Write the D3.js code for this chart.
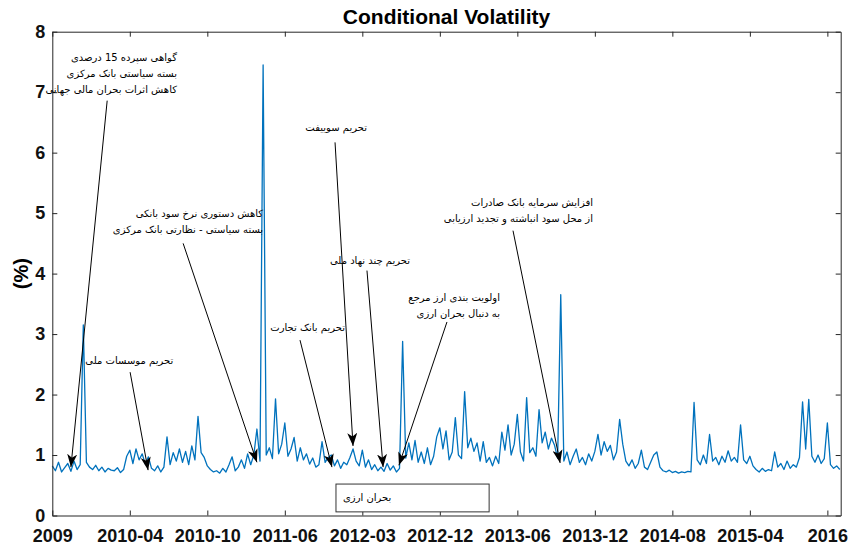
<!DOCTYPE html>
<html>
<head>
<meta charset="utf-8">
<script src="https://cdn.jsdelivr.net/npm/d3@7"></script>
<style>
body { margin: 0; background: #fff; }
</style>
</head>
<body>
<div class="container"></div>
<script>
// conditional volatility (%), one value per sampled observation
var volatility = [
    0.82, 0.74, 0.88, 0.72, 0.79, 0.86, 0.73, 0.90, 0.76, 0.84,
    3.15, 0.88, 0.80, 0.76, 0.83, 0.74, 0.80, 0.72, 0.78, 0.75,
    0.74, 0.79, 0.71, 0.76, 0.98, 1.08, 0.86, 1.10, 0.92, 1.02,
    0.85, 0.97, 0.78, 0.74, 0.82, 0.72, 0.80, 1.30, 0.84, 1.04,
    0.90, 1.10, 0.88, 1.06, 0.84, 1.15, 0.92, 1.64, 1.04, 0.96,
    0.82, 0.76, 0.72, 0.74, 0.70, 0.78, 0.72, 0.84, 0.97, 0.74,
    0.80, 0.92, 0.78, 1.02, 0.84, 1.00, 1.43, 0.90, 7.45, 1.00,
    1.12, 0.94, 1.93, 1.02, 1.18, 1.53, 0.98, 1.10, 1.29, 0.90,
    1.12, 0.92, 1.02, 0.85, 0.95, 0.80, 0.84, 1.22, 0.88, 0.96,
    1.00, 0.82, 0.92, 0.78, 0.88, 0.84, 0.96, 1.10, 0.90, 0.82,
    1.08, 0.80, 0.92, 0.76, 0.84, 0.74, 0.80, 0.73, 0.86, 0.75,
    0.82, 0.72, 0.78, 2.88, 0.95, 1.20, 0.92, 1.24, 0.88, 1.05,
    0.86, 1.12, 0.84, 0.98, 1.30, 1.45, 1.10, 1.40, 0.92, 1.05,
    1.62, 1.00, 0.94, 2.05, 1.12, 1.28, 1.06, 1.20, 0.90, 1.22,
    0.88, 0.96, 0.82, 0.98, 0.86, 1.38, 1.08, 1.50, 1.00, 1.18,
    1.67, 1.05, 0.90, 1.95, 1.04, 1.12, 0.98, 1.75, 1.20, 1.38,
    1.10, 1.28, 1.16, 0.95, 3.65, 0.90, 1.05, 0.84, 0.98, 1.10,
    0.88, 0.96, 0.84, 1.02, 0.90, 1.06, 1.34, 1.00, 1.22, 1.06,
    1.16, 0.92, 1.05, 1.59, 1.18, 0.90, 0.82, 0.92, 0.78, 0.86,
    1.08, 0.80, 0.76, 0.88, 1.00, 1.05, 0.80, 0.74, 0.72, 0.75,
    0.71, 0.73, 0.70, 0.72, 0.71, 0.73, 0.72, 1.87, 0.92, 0.84,
    1.00, 0.86, 1.34, 0.90, 0.96, 0.84, 0.98, 0.88, 1.07, 0.90,
    0.96, 0.88, 1.50, 0.92, 0.86, 0.98, 0.82, 0.76, 0.72, 0.78,
    0.73, 0.76, 0.74, 1.05, 0.80, 0.86, 0.76, 0.90, 0.78, 0.84,
    0.80, 0.96, 1.88, 1.10, 1.92, 0.98, 0.88, 1.00, 0.86, 0.94,
    1.53, 0.84, 0.78, 0.82, 0.76
];

var xTickIndex = [0, 25, 50, 75, 100, 125, 150, 175, 200, 225, 250];
var xTickLabels = ["2009", "2010-04", "2010-10", "2011-06", "2012-03", "2012-12",
    "2013-06", "2013-12", "2014-08", "2015-04", "2016"];
var yTicks = [0, 1, 2, 3, 4, 5, 6, 7, 8];

// event notes: text lines, label anchor and arrow tail/head, all in (index, %) units
var noteLines = [
    ["گواهی سپرده 15 درصدی", "بسته سیاستی بانک مرکزی", "کاهش اثرات بحران مالی جهانی"],
    ["تحریم موسسات ملی"],
    ["کاهش دستوری نرخ سود بانکی", "بسته سیاستی - نظارتی بانک مرکزی"],
    ["تحریم بانک تجارت"],
    ["تحریم سوییفت"],
    ["تحریم چند نهاد ملی"],
    ["اولویت بندی ارز مرجع", "به دنبال بحران ارزی"],
    ["افزایش سرمایه بانک صادرات", "از محل سود انباشته و تجدید ارزیابی"]
];
var noteAt = [[40.2, 7.57], [39.0, 2.57], [68.0, 5.0], [94.4, 3.11], [101.5, 6.41], [115.4, 4.22], [144.4, 3.61], [174.4, 5.18]];
var arrowFrom = [[17.7, 6.86], [25.1, 2.37], [42.2, 4.5], [79.9, 2.90], [91.2, 6.17], [101.5, 4.05], [127.3, 3.20], [148.6, 4.71]];
var arrowTo = [[6.0, 0.80], [30.9, 0.75], [66.0, 0.88], [90.2, 0.80], [97.0, 1.15], [106.7, 0.80], [111.8, 0.83], [163.8, 0.87]];

var boxLabel = "بحران ارزی";
var boxSpan = [91.5, 140.9];
var boxRange = [0.06, 0.52];

var svgWidth = 851;
var svgHeight = 551;

var chartMargin = {
    top: 31.7,
    bottom: 35.5,
    left: 52.3,
    right: 10.3
};

var chartWidth = svgWidth - (chartMargin.left + chartMargin.right);
var chartHeight = svgHeight - (chartMargin.top + chartMargin.bottom);

var svg = d3
    .select(".container")
    .append("svg")
    .attr("height", svgHeight)
    .attr("width", svgWidth)
    .style("display", "block");

svg.append("defs")
    .append("marker")
    .attr("id", "head")
    .attr("markerUnits", "userSpaceOnUse")
    .attr("viewBox", "0 0 13 10")
    .attr("markerWidth", 13)
    .attr("markerHeight", 10)
    .attr("refX", 13)
    .attr("refY", 5)
    .attr("orient", "auto")
    .append("path")
    .attr("d", "M0,0 L13,5 L0,10 L3.5,5 Z")
    .attr("fill", "#000");

var chartGroup = svg.append("g")
    .attr("transform", `translate(${chartMargin.left}, ${chartMargin.top})`);

var xScale = d3.scaleLinear()
    .domain([0, 254.3])
    .range([0, chartWidth]);

var yScale = d3.scaleLinear()
    .domain([0, 8])
    .range([chartHeight, 0]);

var bottomAxis = d3.axisBottom(xScale)
    .tickValues(xTickIndex)
    .tickFormat((d, i) => xTickLabels[i])
    .tickSizeInner(-5)
    .tickSizeOuter(0)
    .tickPadding(14);
var topAxis = d3.axisTop(xScale)
    .tickValues(xTickIndex)
    .tickFormat("")
    .tickSizeInner(-5)
    .tickSizeOuter(0);
var leftAxis = d3.axisLeft(yScale)
    .tickValues(yTicks)
    .tickFormat(d3.format("d"))
    .tickSizeInner(-5)
    .tickSizeOuter(0)
    .tickPadding(7);
var rightAxis = d3.axisRight(yScale)
    .tickValues(yTicks)
    .tickFormat("")
    .tickSizeInner(-5)
    .tickSizeOuter(0);

var volLine = d3.line()
    .x((d, i) => xScale(i))
    .y(d => yScale(d));

chartGroup.append("path")
    .datum(volatility)
    .attr("fill", "none")
    .attr("stroke", "#0072BD")
    .attr("stroke-width", 1.3)
    .attr("stroke-linejoin", "round")
    .attr("d", volLine);

var axes = [
    chartGroup.append("g").attr("transform", `translate(0, ${chartHeight})`).call(bottomAxis),
    chartGroup.append("g").call(topAxis),
    chartGroup.append("g").call(leftAxis),
    chartGroup.append("g").attr("transform", `translate(${chartWidth}, 0)`).call(rightAxis)
];
axes.forEach(g => {
    g.selectAll("path, line").attr("stroke", "#262626").attr("stroke-width", 1);
    g.selectAll("text")
        .attr("fill", "#111")
        .style("font-family", "'Liberation Sans', Arial, sans-serif")
        .style("font-size", "18px")
        .style("font-weight", "bold");
});

// currency crisis box
chartGroup.append("rect")
    .attr("x", xScale(boxSpan[0]))
    .attr("y", yScale(boxRange[1]))
    .attr("width", xScale(boxSpan[1]) - xScale(boxSpan[0]))
    .attr("height", yScale(boxRange[0]) - yScale(boxRange[1]))
    .attr("fill", "#fff")
    .attr("stroke", "#333")
    .attr("stroke-width", 1);

chartGroup.append("text")
    .attr("x", xScale(boxSpan[0]) + 7)
    .attr("y", yScale((boxRange[0] + boxRange[1]) / 2))
    .attr("dy", "0.35em")
    .attr("text-anchor", "start")
    .style("font-family", "'DejaVu Sans', sans-serif")
    .style("font-size", "10px")
    .text(boxLabel);

// arrows
chartGroup.selectAll(".arrow")
    .data(arrowFrom)
    .enter()
    .append("line")
    .classed("arrow", true)
    .attr("x1", d => xScale(d[0]))
    .attr("y1", d => yScale(d[1]))
    .attr("x2", (d, i) => xScale(arrowTo[i][0]))
    .attr("y2", (d, i) => yScale(arrowTo[i][1]))
    .attr("stroke", "#000")
    .attr("stroke-width", 1)
    .attr("marker-end", "url(#head)");

// note texts
noteLines.forEach((lines, i) => {
    var t = chartGroup.append("text")
        .attr("text-anchor", "end")
        .style("font-family", "'DejaVu Sans', sans-serif")
        .style("font-size", "10px")
        .attr("fill", "#000");
    lines.forEach((line, k) => {
        t.append("tspan")
            .attr("x", xScale(noteAt[i][0]))
            .attr("y", yScale(noteAt[i][1]) + k * 16)
            .attr("dy", "0.35em")
            .text(line);
    });
});

svg.append("text")
    .attr("x", chartMargin.left + chartWidth / 2)
    .attr("y", 24)
    .attr("text-anchor", "middle")
    .style("font-family", "'Liberation Sans', Arial, sans-serif")
    .style("font-size", "21px")
    .style("font-weight", "bold")
    .text("Conditional Volatility");

svg.append("text")
    .attr("transform", `translate(28, ${chartMargin.top + chartHeight / 2}) rotate(-90)`)
    .attr("text-anchor", "middle")
    .style("font-family", "'Liberation Sans', Arial, sans-serif")
    .style("font-size", "20px")
    .style("font-weight", "bold")
    .text("(%)");
</script>
</body>
</html>
